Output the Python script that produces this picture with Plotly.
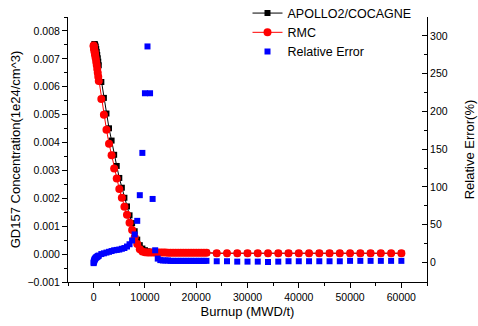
import plotly.graph_objects as go

burnup = [0, 10, 50, 100, 150, 200, 250, 300, 400, 500, 600, 700, 800, 900, 1000,
          1500, 2000, 2500, 3000, 3500, 4000, 4500, 5000, 5500, 6000, 6500, 7000,
          7500, 8000, 8500, 9000, 9500, 10000, 10500, 11000, 11500, 12000, 12500,
          13000, 13500, 14000, 14500, 15000, 15500, 16000, 16500, 17000, 17500,
          18000, 18500, 19000, 19500, 20000, 20500, 21000, 21500, 22000,
          24000, 26000, 28000, 30000, 32000, 34000, 36000, 38000, 40000, 42000,
          44000, 46000, 48000, 50000, 52000, 54000, 56000, 58000, 60000]

rmc = [0.00748, 0.00745, 0.00740, 0.00735, 0.00730, 0.00724, 0.00718, 0.00712,
       0.00702, 0.00690, 0.00678, 0.00664, 0.00650, 0.00636, 0.00621,
       0.00556, 0.00500, 0.00446, 0.00396, 0.00354, 0.00307, 0.00271, 0.00233,
       0.00202, 0.00170, 0.00141, 0.00112, 0.00086, 0.00060, 0.00036, 0.00017,
       0.00009, 0.00007, 0.00006, 0.00006, 0.00006, 0.00006, 0.00006,
       0.00006, 0.00006, 0.00006, 0.00005, 0.00005, 0.00005, 0.00005, 0.00005,
       0.00005, 0.00005, 0.00005, 0.00005, 0.00005, 0.00005, 0.00005, 0.00005,
       0.00005, 0.00005, 0.00005,
       0.00003, 0.00003, 0.00003, 0.00003, 0.00003, 0.00003, 0.00003, 0.00003,
       0.00003, 0.00003, 0.00003, 0.00003, 0.00003, 0.00003, 0.00003, 0.00003,
       0.00003, 0.00003, 0.00003]

apollo = [0.00741, 0.00745, 0.00747, 0.00750, 0.00752, 0.00753, 0.00750, 0.00748,
          0.00744, 0.00735, 0.00725, 0.00714, 0.00702, 0.00690, 0.00677,
          0.00617, 0.00560, 0.00504, 0.00451, 0.00407, 0.00356, 0.00316, 0.00273,
          0.00238, 0.00202, 0.00171, 0.00139, 0.00111, 0.00082, 0.00052, 0.00032,
          0.00020, 0.00014, 0.00010, 0.00008, 0.00007, 0.00006, 0.00006,
          0.00006, 0.00006, 0.00006, 0.00005, 0.00005, 0.00005, 0.00005, 0.00005,
          0.00005, 0.00005, 0.00005, 0.00005, 0.00005, 0.00005, 0.00005, 0.00005,
          0.00005, 0.00005, 0.00005,
          0.00003, 0.00003, 0.00003, 0.00003, 0.00003, 0.00003, 0.00003, 0.00003,
          0.00003, 0.00003, 0.00003, 0.00003, 0.00003, 0.00003, 0.00003, 0.00003,
          0.00003, 0.00003, 0.00003]

rel_error = [-1, 0, 1, 2, 3, 4, 4.5, 5, 6, 6.5, 7, 7.5, 8, 8.5, 9,
             11, 12, 13, 14, 15, 16, 16.5, 17, 18, 19, 21, 24,
             29, 37, 55, 89, 145, 224, 286, 224, 84, 16, 5,
             3, 2.5, 2.5, 2.5, 2, 2, 2, 2, 2, 2, 2, 2, 2, 2, 2, 2, 2, 2, 2,
             1.5, 1.5, 1, 1, 1, 0.5, 1, 1.5, 1.5, 1.5,
             1.5, 1.5, 1.5, 2, 2, 2, 2, 2, 2]

x_ticks = [0, 10000, 20000, 30000, 40000, 50000, 60000]

FONT = "Arial, 'Liberation Sans', sans-serif"

fig = go.Figure()
fig.add_trace(go.Scatter(
    x=burnup, y=apollo, name="APOLLO2/COCAGNE", mode="lines+markers",
    line=dict(color="black", width=1),
    marker=dict(symbol="square", size=6, color="black"),
))
fig.add_trace(go.Scatter(
    x=burnup, y=rmc, name="RMC", mode="lines+markers",
    line=dict(color="red", width=1),
    marker=dict(symbol="circle", size=8, color="red"),
))
fig.add_trace(go.Scatter(
    x=burnup, y=rel_error, name="Relative Error", mode="markers",
    marker=dict(symbol="square", size=6, color="blue"),
    yaxis="y2",
))

fig.update_layout(
    width=478, height=326,
    margin=dict(l=68, r=51, t=17, b=44, autoexpand=False),
    paper_bgcolor="white", plot_bgcolor="white",
    font=dict(family=FONT, size=11, color="black"),
    showlegend=True,
    legend=dict(x=0.5, y=1.07, xanchor="left", yanchor="top",
                bgcolor="rgba(0,0,0,0)", font=dict(size=12.5),
                tracegroupgap=0),
    xaxis=dict(
        range=[-5000, 65000], tickvals=x_ticks,
        ticktext=[str(v) for v in x_ticks],
        showline=True, linecolor="black", linewidth=1,
        ticks="outside", ticklen=5, tickcolor="black",
        minor=dict(dtick=5000, tick0=0, ticks="outside", ticklen=3, tickcolor="black"),
        showgrid=False, zeroline=False, automargin=False,
        tickfont=dict(size=10.5),
        title=dict(text="Burnup (MWD/t)", font=dict(size=13), standoff=5),
    ),
    yaxis=dict(
        range=[-0.001, 0.0085], dtick=0.001, tick0=0, tickformat=".3f",
        showline=True, linecolor="black", linewidth=1,
        ticks="outside", ticklen=5, tickcolor="black",
        minor=dict(dtick=0.0005, tick0=0, ticks="outside", ticklen=3, tickcolor="black"),
        showgrid=False, zeroline=False, automargin=False,
        tickfont=dict(size=10.5),
        title=dict(text="GD157 Concentration(1e24/cm^3)", font=dict(size=13), standoff=3),
    ),
    yaxis2=dict(
        range=[-26, 325], dtick=50, tick0=0,
        overlaying="y", side="right",
        showline=True, linecolor="black", linewidth=1,
        ticks="inside", ticklen=5, tickcolor="black",
        minor=dict(dtick=25, tick0=0, ticks="inside", ticklen=3, tickcolor="black"),
        showgrid=False, zeroline=False, automargin=False,
        tickfont=dict(size=10.5),
        title=dict(text="Relative Error(%)", font=dict(size=13), standoff=18),
    ),
)

fig.write_html("out.html")
